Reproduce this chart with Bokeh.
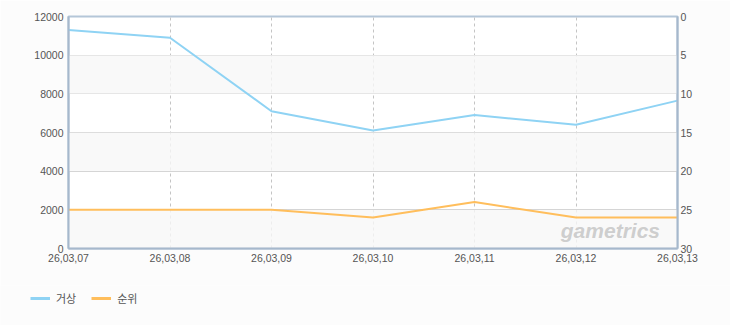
from bokeh.plotting import figure
from bokeh.models import Range1d, LinearAxis, Legend, LegendItem, Label, FixedTicker, BoxAnnotation
from bokeh.embed import file_html
from bokeh.resources import INLINE

dates = ["26,03,07", "26,03,08", "26,03,09", "26,03,10", "26,03,11", "26,03,12", "26,03,13"]
value_series = [11300, 10900, 7100, 6100, 6900, 6400, 7650]
rank_series = [25, 25, 25, 26, 24, 26, 26]
left_ticks = [0, 2000, 4000, 6000, 8000, 10000, 12000]
right_ticks = [0, 5, 10, 15, 20, 25, 30]
series_names = ["거상", "순위"]
series_colors = ["#8fd3f4", "#ffbe5c"]

xs = list(range(len(dates)))
BG = "#fcfcfc"

p = figure(width=730, height=285, output_backend="svg", toolbar_location=None,
           x_range=Range1d(0, len(dates) - 1), y_range=Range1d(0, 12000),
           min_border_left=68, min_border_right=53, min_border_top=16, min_border_bottom=37)
p.background_fill_color = "#ffffff"
p.border_fill_color = BG
p.outline_line_color = "#b4c6d8"
p.outline_line_width = 2

p.extra_y_ranges = {"rank": Range1d(start=30, end=0)}

label_font = "Liberation Sans"

# alternating bands
for i in range(0, len(left_ticks) - 1, 2):
    p.add_layout(BoxAnnotation(bottom=left_ticks[i], top=left_ticks[i + 1],
                               fill_color="#f7f7f7", fill_alpha=0.8, line_color=None,
                               level="underlay"))

# axes
p.xaxis.ticker = FixedTicker(ticks=xs)
p.xaxis.major_label_overrides = {i: d for i, d in enumerate(dates)}
p.yaxis.ticker = FixedTicker(ticks=left_ticks)
for ax in [p.xaxis[0], p.yaxis[0]]:
    ax.major_tick_line_color = None
    ax.minor_tick_line_color = None
    ax.axis_line_color = "#a6b8cc"
    ax.axis_line_width = 2
    ax.major_label_text_font = label_font
    ax.major_label_text_font_size = "10.5px"
    ax.major_label_text_color = "#555555"
p.yaxis.major_label_standoff = -1
p.xaxis.major_label_standoff = -1

raxis = LinearAxis(y_range_name="rank", ticker=FixedTicker(ticks=right_ticks))
raxis.major_tick_line_color = None
raxis.minor_tick_line_color = None
raxis.axis_line_color = "#a6b8cc"
raxis.axis_line_width = 2
raxis.major_label_text_font = label_font
raxis.major_label_text_font_size = "10.5px"
raxis.major_label_text_color = "#555555"
raxis.major_label_standoff = -3
p.add_layout(raxis, "right")

# grids
p.xgrid.ticker = FixedTicker(ticks=xs)
p.xgrid.grid_line_color = "#c4c4c4"
p.xgrid.grid_line_dash = "3 3"
p.ygrid.ticker = FixedTicker(ticks=left_ticks)
p.ygrid.grid_line_color = "#cccccc"

# watermark
p.add_layout(Label(x=4.85, y=350, text="gametrics", text_font=label_font,
                   text_font_style="bold italic", text_font_size="21px",
                   text_color="#c8c8c8", text_alpha=0.9))

p.line(xs, value_series, line_color=series_colors[0], line_width=2)
p.line(xs, rank_series, line_color=series_colors[1], line_width=2, y_range_name="rank")

# legend strip (series drawn out of its view; only the legend shows)
lg = figure(width=730, height=40, output_backend="svg", toolbar_location=None,
            x_range=Range1d(-1, -0.5), y_range=Range1d(-1, -0.5),
            x_axis_type=None, y_axis_type=None,
            min_border=0, min_border_left=0, min_border_right=0,
            min_border_top=0, min_border_bottom=0)
lg.grid.visible = False
lg.outline_line_color = None
lg.background_fill_color = BG
lg.border_fill_color = BG
d1 = lg.line(xs, value_series, line_color=series_colors[0], line_width=3)
d2 = lg.line(xs, rank_series, line_color=series_colors[1], line_width=3)
legend = Legend(items=[LegendItem(label=series_names[0], renderers=[d1]),
                       LegendItem(label=series_names[1], renderers=[d2])],
                location=(30, 19), orientation="horizontal")
legend.background_fill_alpha = 0
legend.border_line_color = None
legend.label_text_font = "Noto Sans CJK KR"
legend.label_text_font_size = "11px"
legend.label_text_color = "#555555"
legend.glyph_width = 20
legend.glyph_height = 14
legend.spacing = 15
legend.label_standoff = 6
legend.margin = 0
legend.padding = 0
lg.add_layout(legend, "center")

open("out.html", "w").write(file_html([p, lg], INLINE))
